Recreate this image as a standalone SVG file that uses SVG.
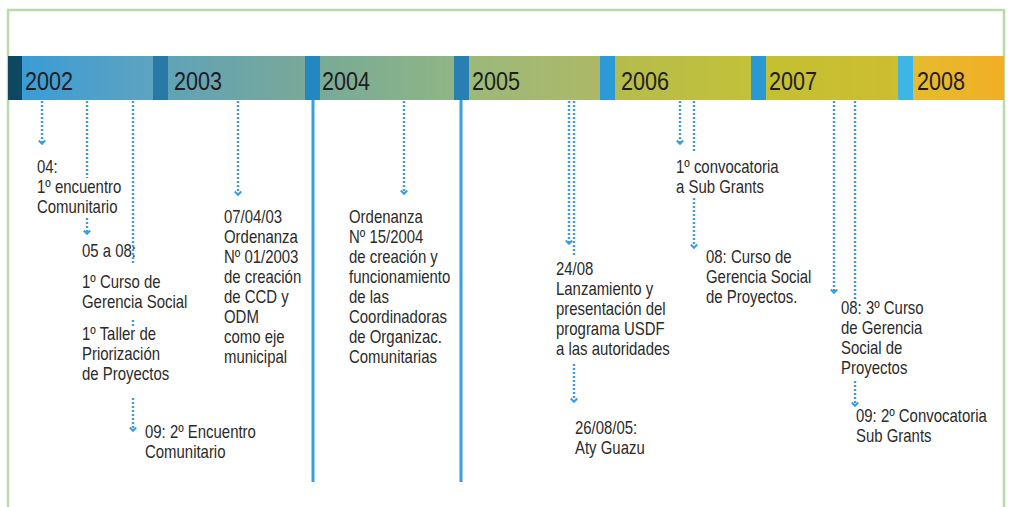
<svg xmlns="http://www.w3.org/2000/svg" width="1010" height="507" viewBox="0 0 1010 507">
  <style>
    .t { font-family: "Liberation Sans", Arial, sans-serif; font-size: 18px; fill: #2b2b2b; }
    .yr { font-family: "Liberation Sans", Arial, sans-serif; font-size: 26px; fill: #1e1e1e; }
    .dot { fill: none; stroke: #3a9ddc; stroke-width: 2.4; stroke-dasharray: 2 2; }
    .solid { fill: none; stroke: #3a9ddc; stroke-width: 3; }
    .sep { stroke: none; }
  </style>
  <defs>
    <marker id="chev" markerUnits="userSpaceOnUse" markerWidth="10" markerHeight="10" refX="0" refY="0" viewBox="-5 -5 10 10" orient="auto">
      <path d="M-2.5,-3.2 L0.8,0 L-2.5,3.2" fill="none" stroke="#3a9ddc" stroke-width="2"/>
    </marker>
    <linearGradient id="g2002" x1="0" x2="1" y1="0" y2="0"><stop offset="0" stop-color="#3a9cd6"/><stop offset="1" stop-color="#5ea3c0"/></linearGradient>
    <linearGradient id="g2003" x1="0" x2="1" y1="0" y2="0"><stop offset="0" stop-color="#5fa3b8"/><stop offset="1" stop-color="#7aa898"/></linearGradient>
    <linearGradient id="g2004" x1="0" x2="1" y1="0" y2="0"><stop offset="0" stop-color="#78aa98"/><stop offset="1" stop-color="#90b585"/></linearGradient>
    <linearGradient id="g2005" x1="0" x2="1" y1="0" y2="0"><stop offset="0" stop-color="#9bb97a"/><stop offset="1" stop-color="#adb867"/></linearGradient>
    <linearGradient id="g2006" x1="0" x2="1" y1="0" y2="0"><stop offset="0" stop-color="#b5bc4c"/><stop offset="1" stop-color="#c2c13a"/></linearGradient>
    <linearGradient id="g2007" x1="0" x2="1" y1="0" y2="0"><stop offset="0" stop-color="#c3c032"/><stop offset="1" stop-color="#cdbd30"/></linearGradient>
    <linearGradient id="g2008" x1="0" x2="1" y1="0" y2="0"><stop offset="0" stop-color="#e5bb2f"/><stop offset="1" stop-color="#f2ae25"/></linearGradient>
  </defs>

  <rect width="1010" height="507" fill="#ffffff"/>
  <!-- frame, open at the bottom -->
  <path d="M8,507 L8,10 L1004,10 L1004,507" fill="none" stroke="#b8dca8" stroke-width="2.5"/>

  <!-- year bar -->
  <g id="timeline-bar">
    <rect x="8" y="56" width="14" height="44" fill="#0d4760"/>
    <rect x="22" y="56" width="131" height="44" fill="url(#g2002)"/>
    <rect x="153" y="56" width="15" height="44" fill="#2879a8"/>
    <rect x="168" y="56" width="137" height="44" fill="url(#g2003)"/>
    <rect x="305" y="56" width="15" height="44" fill="#2188c2"/>
    <rect x="320" y="56" width="134" height="44" fill="url(#g2004)"/>
    <rect x="454" y="56" width="15" height="44" fill="#2a7fb2"/>
    <rect x="469" y="56" width="131" height="44" fill="url(#g2005)"/>
    <rect x="600" y="56" width="15" height="44" fill="#2b9ad6"/>
    <rect x="615" y="56" width="136" height="44" fill="url(#g2006)"/>
    <rect x="751" y="56" width="15" height="44" fill="#2a98d2"/>
    <rect x="766" y="56" width="132" height="44" fill="url(#g2007)"/>
    <rect x="898" y="56" width="15" height="44" fill="#3db6e6"/>
    <rect x="913" y="56" width="91" height="44" fill="url(#g2008)"/>
    <text class="yr" transform="translate(25,90) scale(0.83,1)">2002</text>
    <text class="yr" transform="translate(174,90) scale(0.83,1)">2003</text>
    <text class="yr" transform="translate(322,90) scale(0.83,1)">2004</text>
    <text class="yr" transform="translate(472,90) scale(0.83,1)">2005</text>
    <text class="yr" transform="translate(621,90) scale(0.83,1)">2006</text>
    <text class="yr" transform="translate(769,90) scale(0.83,1)">2007</text>
    <text class="yr" transform="translate(917,90) scale(0.83,1)">2008</text>
  </g>

  <!-- connectors -->
  <g id="connectors">
    <line class="solid" x1="313" y1="100" x2="313" y2="482"/>
    <line class="solid" x1="461" y1="100" x2="461" y2="482"/>

    <path class="dot" d="M42,101 V143" marker-end="url(#chev)"/>
    <path class="dot" d="M87,101 V178"/>
    <path class="dot" d="M87,218 V233" marker-end="url(#chev)"/>
    <path class="dot" d="M133,101 V265"/>
    <path class="dot" d="M133,320 V326"/>
    <path class="dot" d="M133,398 V430" marker-end="url(#chev)"/>
    <path class="dot" d="M238,101 V194" marker-end="url(#chev)"/>
    <path class="dot" d="M404,101 V193" marker-end="url(#chev)"/>
    <path class="dot" d="M569,101 V243" marker-end="url(#chev)"/>
    <path class="dot" d="M574,101 V255"/>
    <path class="dot" d="M574,364 V401" marker-end="url(#chev)"/>
    <path class="dot" d="M680,101 V143" marker-end="url(#chev)"/>
    <path class="dot" d="M694,101 V152"/>
    <path class="dot" d="M694,198 V247" marker-end="url(#chev)"/>
    <path class="dot" d="M834,101 V292" marker-end="url(#chev)"/>
    <path class="dot" d="M855,101 V299"/>
    <path class="dot" d="M855,381 V405" marker-end="url(#chev)"/>
  </g>

  <!-- events -->
  <g id="ev-2002-04">
    <text class="t" transform="translate(37,173) scale(0.83,1)"><tspan x="0" y="0">04:</tspan><tspan x="0" y="20">1º encuentro</tspan><tspan x="0" y="40">Comunitario</tspan></text>
  </g>
  <g id="ev-2002-05">
    <text class="t" transform="translate(82,257) scale(0.83,1)"><tspan x="0" y="0">05 a 08:</tspan></text>
  </g>
  <g id="ev-2002-curso">
    <text class="t" transform="translate(82,288) scale(0.83,1)"><tspan x="0" y="0">1º Curso de</tspan><tspan x="0" y="20">Gerencia Social</tspan></text>
  </g>
  <g id="ev-2002-taller">
    <text class="t" transform="translate(82,340) scale(0.83,1)"><tspan x="0" y="0">1º Taller de</tspan><tspan x="0" y="20">Priorización</tspan><tspan x="0" y="40">de Proyectos</tspan></text>
  </g>
  <g id="ev-2002-09">
    <text class="t" transform="translate(145,438) scale(0.83,1)"><tspan x="0" y="0">09: 2º Encuentro</tspan><tspan x="0" y="20">Comunitario</tspan></text>
  </g>
  <g id="ev-2003">
    <text class="t" transform="translate(224,223) scale(0.83,1)"><tspan x="0" y="0">07/04/03</tspan><tspan x="0" y="20">Ordenanza</tspan><tspan x="0" y="40">Nº 01/2003</tspan><tspan x="0" y="60">de creación</tspan><tspan x="0" y="80">de CCD y</tspan><tspan x="0" y="100">ODM</tspan><tspan x="0" y="120">como eje</tspan><tspan x="0" y="140">municipal</tspan></text>
  </g>
  <g id="ev-2004">
    <text class="t" transform="translate(349,223) scale(0.83,1)"><tspan x="0" y="0">Ordenanza</tspan><tspan x="0" y="20">Nº 15/2004</tspan><tspan x="0" y="40">de creación y</tspan><tspan x="0" y="60">funcionamiento</tspan><tspan x="0" y="80">de las</tspan><tspan x="0" y="100">Coordinadoras</tspan><tspan x="0" y="120">de Organizac.</tspan><tspan x="0" y="140">Comunitarias</tspan></text>
  </g>
  <g id="ev-2005-lanzamiento">
    <text class="t" transform="translate(556,275) scale(0.83,1)"><tspan x="0" y="0">24/08</tspan><tspan x="0" y="20">Lanzamiento y</tspan><tspan x="0" y="40">presentación del</tspan><tspan x="0" y="60">programa USDF</tspan><tspan x="0" y="80">a las autoridades</tspan></text>
  </g>
  <g id="ev-2005-aty">
    <text class="t" transform="translate(575,434) scale(0.83,1)"><tspan x="0" y="0">26/08/05:</tspan><tspan x="0" y="20">Aty Guazu</tspan></text>
  </g>
  <g id="ev-2006-convocatoria">
    <text class="t" transform="translate(676,173) scale(0.83,1)"><tspan x="0" y="0">1º convocatoria</tspan><tspan x="0" y="20">a Sub Grants</tspan></text>
  </g>
  <g id="ev-2006-curso">
    <text class="t" transform="translate(706,263) scale(0.83,1)"><tspan x="0" y="0">08: Curso de</tspan><tspan x="0" y="20">Gerencia Social</tspan><tspan x="0" y="40">de Proyectos.</tspan></text>
  </g>
  <g id="ev-2007-curso">
    <text class="t" transform="translate(841,314) scale(0.83,1)"><tspan x="0" y="0">08: 3º Curso</tspan><tspan x="0" y="20">de Gerencia</tspan><tspan x="0" y="40">Social de</tspan><tspan x="0" y="60">Proyectos</tspan></text>
  </g>
  <g id="ev-2007-convocatoria">
    <text class="t" transform="translate(856,422) scale(0.83,1)"><tspan x="0" y="0">09: 2º Convocatoria</tspan><tspan x="0" y="20">Sub Grants</tspan></text>
  </g>
</svg>
